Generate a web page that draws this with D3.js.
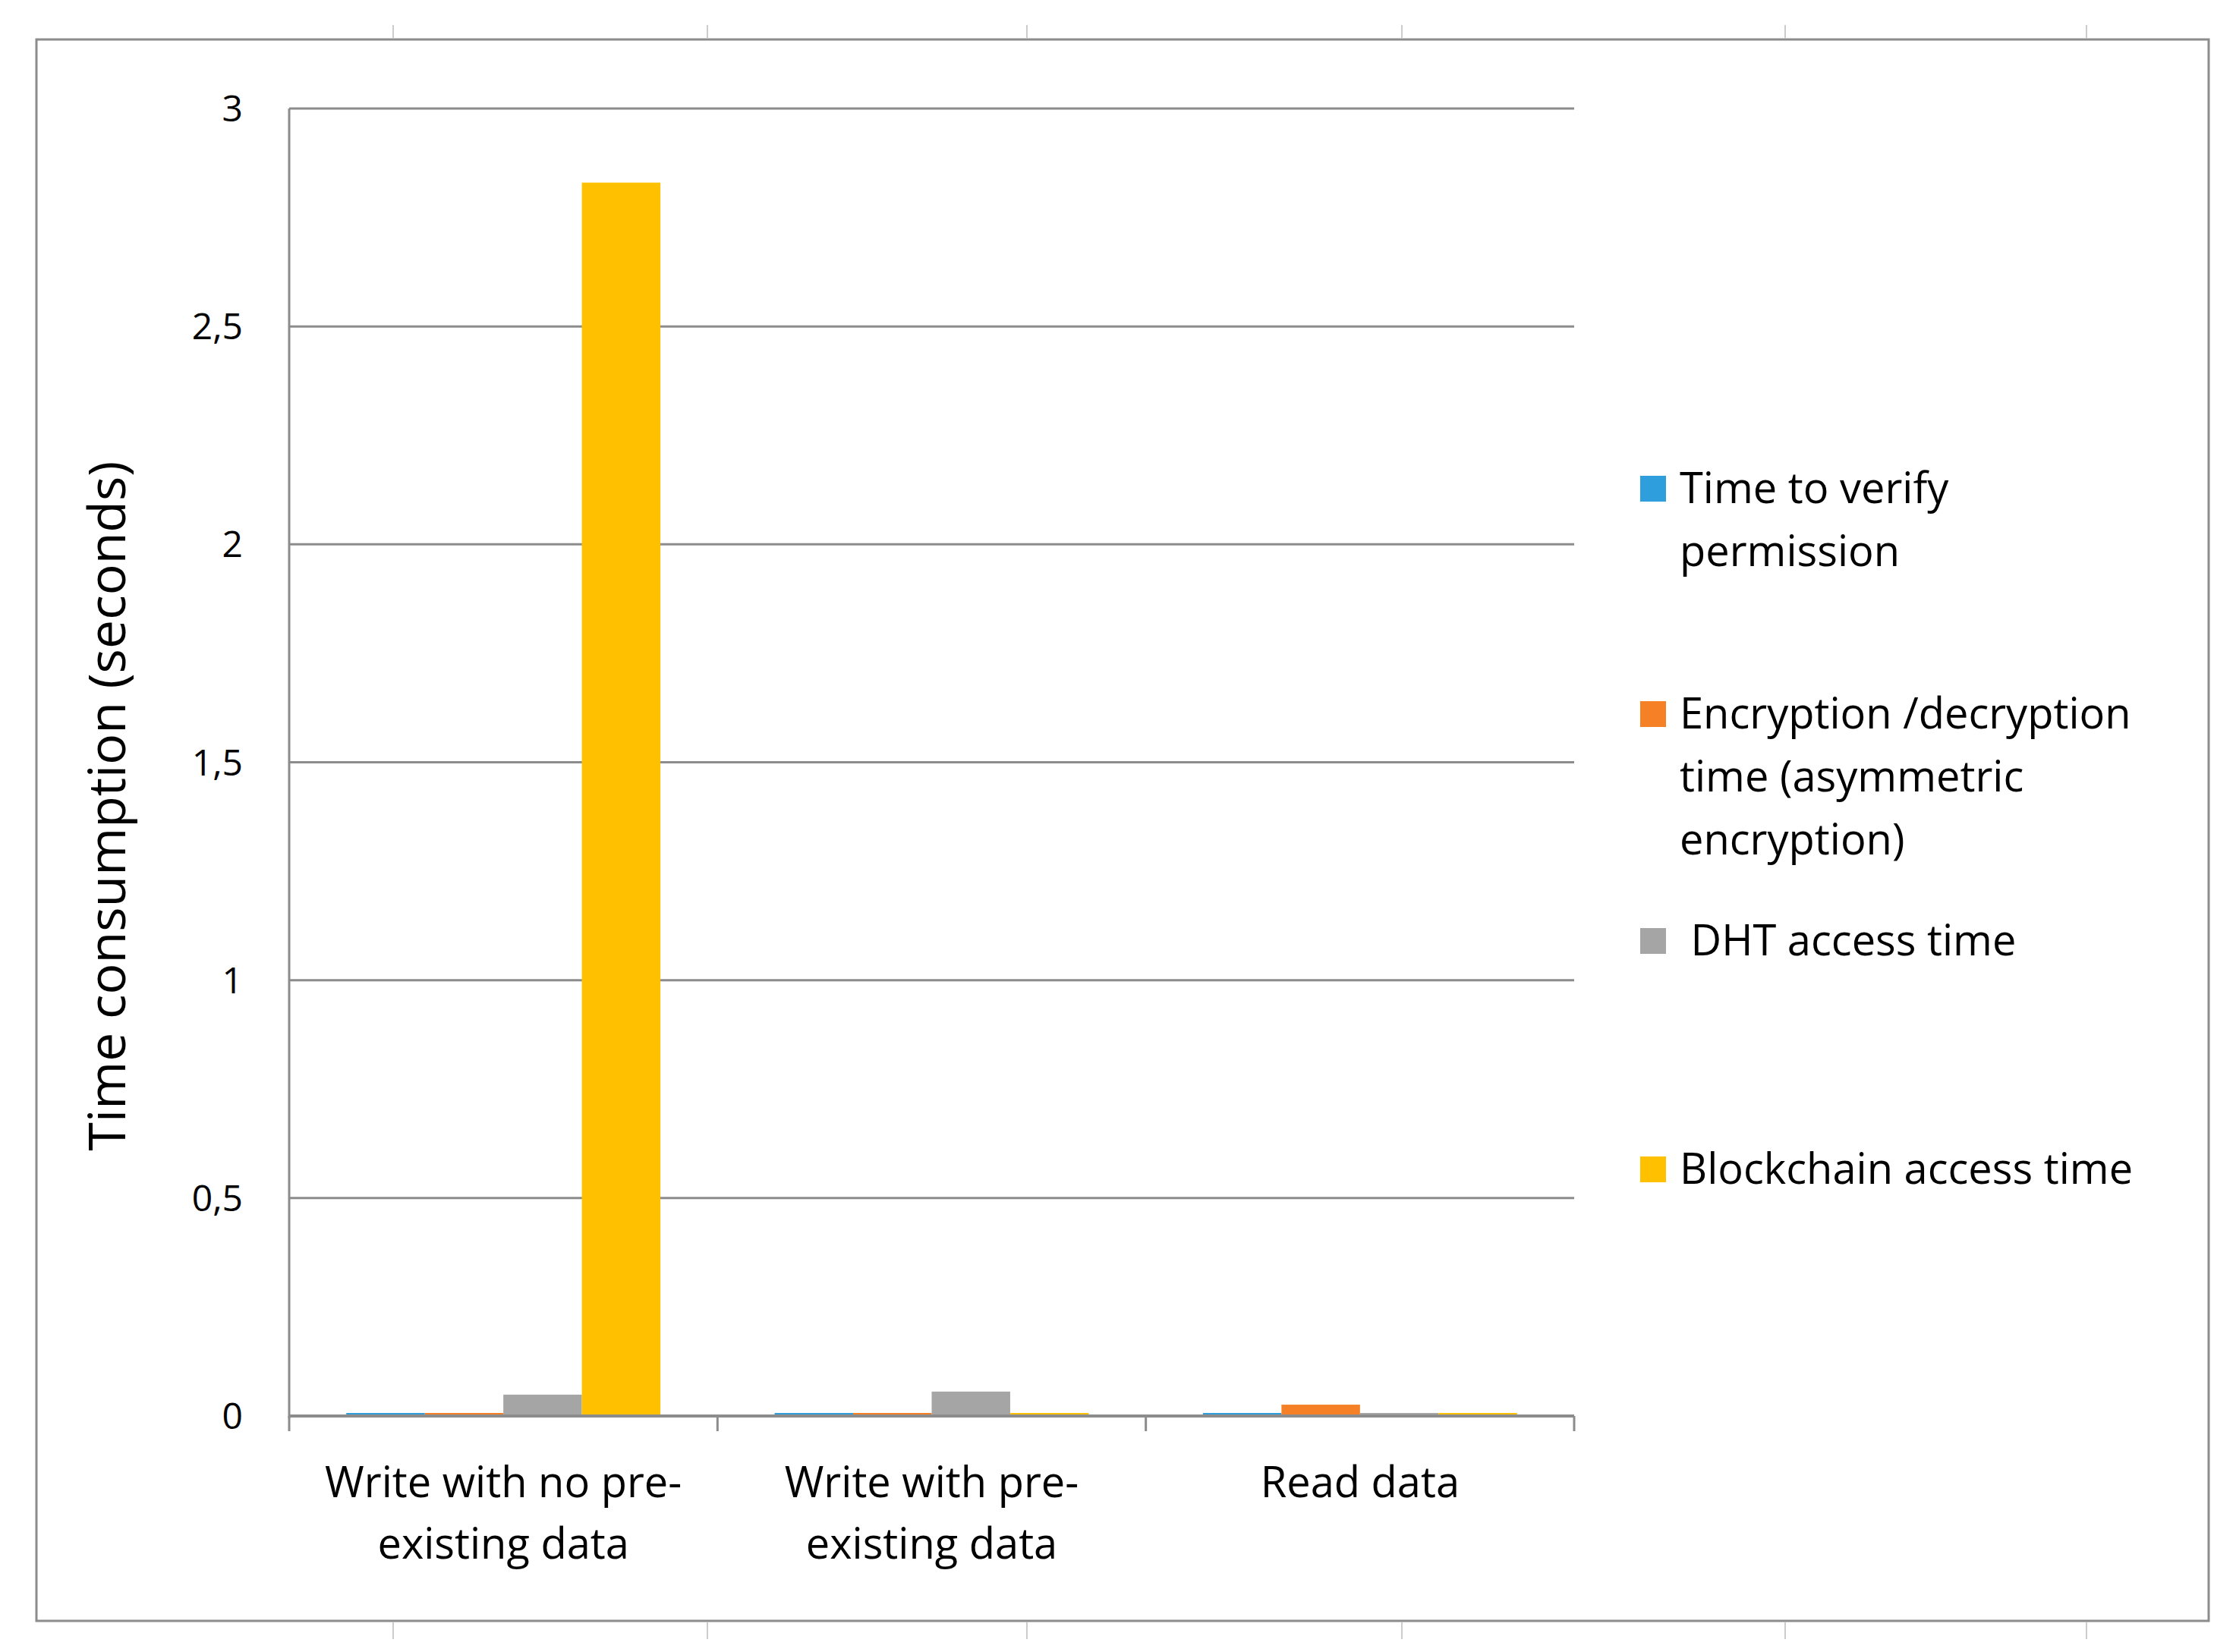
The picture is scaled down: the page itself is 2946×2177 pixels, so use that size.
<!DOCTYPE html>
<html><head><meta charset="utf-8">
<script src="https://cdn.jsdelivr.net/npm/d3@7"></script>
<style>body{margin:0;background:#fff}text{font-family:"Open Sans",sans-serif;fill:#000}</style>
</head><body>
<svg id="chart" width="2946" height="2177"></svg>
<script>
const categories = [["Write with no pre-", "existing data"], ["Write with pre-", "existing data"], ["Read data"]]
const seriesNames = ["Time to verify permission", "Encryption /decryption time (asymmetric encryption)", "DHT access time", "Blockchain access time"]
const colors = ["#2e9fdc", "#f58025", "#a5a5a5", "#ffc000"]
const verify = [0.007, 0.007, 0.007]
const encryption = [0.007, 0.007, 0.026]
const dht = [0.049, 0.056, 0.007]
const blockchain = [2.83, 0.007, 0.007]
const yTicks = [0, 0.5, 1, 1.5, 2, 2.5, 3]
const yTickLabels = ["0", "0,5", "1", "1,5", "2", "2,5", "3"]
const legendLines = [["Time to verify", "permission"], ["Encryption /decryption", "time (asymmetric", "encryption)"], [" DHT access time"], ["Blockchain access time"]]

const series = [verify, encryption, dht, blockchain]
var svg = d3.select("#chart")

// outer frame and decorative marks
svg.append("rect").attr("x", 48).attr("y", 52).attr("width", 2862).attr("height", 2084)
   .attr("fill", "none").attr("stroke", "#8c8c8c").attr("stroke-width", 3)
;[518, 932, 1353, 1847, 2352, 2749].forEach(function(x) {
    svg.append("line").attr("x1", x).attr("x2", x).attr("y1", 33).attr("y2", 50).attr("stroke", "#ccc").attr("stroke-width", 2)
    svg.append("line").attr("x1", x).attr("x2", x).attr("y1", 2138).attr("y2", 2160).attr("stroke", "#ccc").attr("stroke-width", 2)
})

var plotLeft = 381, plotRight = 2074, plotTop = 143, plotBottom = 1866
var y = d3.scaleLinear().domain([0, 3]).range([plotBottom, plotTop])
var x0 = d3.scaleBand().domain(d3.range(3)).range([plotLeft, plotRight])
var x1 = d3.scaleBand().domain(d3.range(4)).range([x0.bandwidth() * 40 / 300, x0.bandwidth() * 260 / 300])

// gridlines
svg.selectAll("line.grid").data(yTicks).enter().append("line")
   .attr("x1", plotLeft).attr("x2", plotRight)
   .attr("y1", function(d) { return y(d) }).attr("y2", function(d) { return y(d) })
   .attr("stroke", "#8c8c8c").attr("stroke-width", 3)

// y axis line and labels
svg.append("line").attr("x1", plotLeft).attr("x2", plotLeft).attr("y1", plotTop).attr("y2", plotBottom + 3).attr("stroke", "#8c8c8c").attr("stroke-width", 3)
svg.selectAll("text.ytick").data(yTicks).enter().append("text")
   .attr("x", 320).attr("y", function(d) { return y(d) + 17 })
   .attr("text-anchor", "end").attr("font-size", 48)
   .text(function(d, i) { return yTickLabels[i] })

// bars
svg.selectAll("g.cat").data(categories).enter().append("g")
   .attr("transform", function(d, i) { return "translate(" + x0(i) + ",0)" })
   .each(function(d, ci) {
       d3.select(this).selectAll("rect").data(series).enter().append("rect")
         .attr("x", function(s, si) { return x1(si) })
         .attr("width", x1.bandwidth())
         .attr("y", function(s) { return y(s[ci]) })
         .attr("height", function(s) { return plotBottom - y(s[ci]) })
         .attr("fill", function(s, si) { return colors[si] })
   })

// x axis with ticks
svg.append("line").attr("x1", plotLeft).attr("x2", plotRight).attr("y1", plotBottom).attr("y2", plotBottom).attr("stroke", "#8c8c8c").attr("stroke-width", 4)
d3.range(4).forEach(function(i) {
    var xx = plotLeft + i * x0.bandwidth()
    svg.append("line").attr("x1", xx).attr("x2", xx).attr("y1", plotBottom).attr("y2", plotBottom + 20).attr("stroke", "#8c8c8c").attr("stroke-width", 3)
})
svg.selectAll("text.cat").data(categories).enter().append("text")
   .attr("text-anchor", "middle").attr("font-size", 56)
   .each(function(d, i) {
       var t = d3.select(this)
       d.forEach(function(line, li) {
           t.append("tspan").attr("x", x0(i) + x0.bandwidth() / 2).attr("y", 1973 + li * 81).text(line)
       })
   })

// axis title
svg.append("text").attr("transform", "translate(165,1062) rotate(-90)")
   .attr("text-anchor", "middle").attr("font-size", 68).text("Time consumption (seconds)")

// legend
var legendY = [644, 941, 1240, 1541]
legendLines.forEach(function(lines, i) {
    svg.append("rect").attr("x", 2161).attr("y", legendY[i] - 17).attr("width", 34).attr("height", 34).attr("fill", colors[i])
    var t = svg.append("text").attr("font-size", 56).attr("xml:space", "preserve")
    lines.forEach(function(line, li) {
        t.append("tspan").attr("x", 2213).attr("y", legendY[i] + 19 + li * 83).text(line)
    })
})
</script>
</body></html>
